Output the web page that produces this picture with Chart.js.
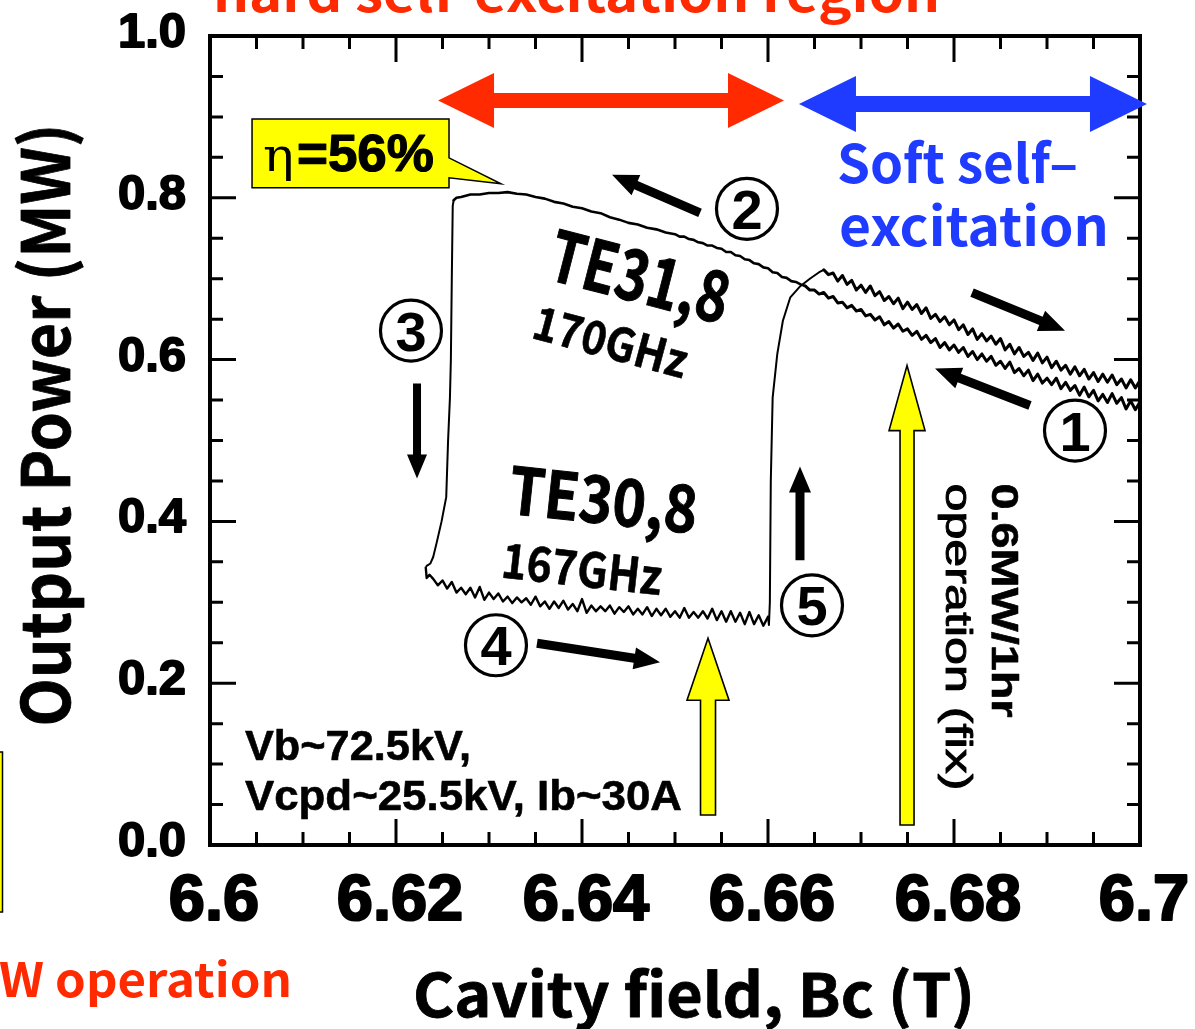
<!DOCTYPE html>
<html>
<head>
<meta charset="utf-8">
<title>Output power vs cavity field</title>
<script src="https://cdn.jsdelivr.net/npm/chart.js@4.4.1/dist/chart.umd.min.js"></script>
<style>
  html, body { margin: 0; padding: 0; background: #fff; overflow: hidden; }
  #wrap { position: relative; width: 1195px; height: 1029px; }
</style>
</head>
<body>
<div id="wrap"><canvas id="c"></canvas></div>
<script>
// ---------------- measured trace: field Bc (T) vs output power (MW) ----------------
// Sweep 1 (field decreasing): high-field branch -> TE31,8 plateau -> drop
const downRightB = [6.7000,6.6995,6.6990,6.6985,6.6980,6.6975,6.6970,6.6965,6.6960,6.6955,
  6.6950,6.6945,6.6940,6.6935,6.6930,6.6925,6.6920,6.6915,6.6910,6.6905,
  6.6900,6.6895,6.6890,6.6885,6.6880,6.6875,6.6870,6.6865,6.6860,6.6855,
  6.6850,6.6845,6.6840,6.6835,6.6830,6.6825,6.6820,6.6815,6.6810,6.6805,
  6.6800,6.6795,6.6790,6.6785,6.6780,6.6775,6.6770,6.6765,6.6760,6.6755,
  6.6750,6.6745,6.6740,6.6735,6.6730,6.6725,6.6720,6.6715,6.6710,6.6705,
  6.6700,6.6695,6.6690,6.6685,6.6680,6.6675,6.6670,6.6665,6.6660,6.6655,
  6.6650,6.6645,6.6640];
const downRightP = [.548,.538,.549,.539,.553,.546,.558,.547,.557,.549,
  .562,.554,.566,.556,.568,.562,.572,.564,.577,.569,
  .577,.571,.582,.574,.587,.580,.589,.584,.597,.589,
  .598,.593,.604,.598,.607,.600,.610,.604,.615,.609,
  .618,.612,.621,.615,.626,.621,.630,.625,.635,.630,
  .638,.635,.644,.639,.647,.643,.653,.649,.656,.654,
  .662,.660,.667,.664,.671,.670,.678,.676,.683,.681,
  .686,.686,.691];

const downTopB = [6.6635,6.6630,6.6625,6.6620,6.6615,6.6610,6.6605,6.6600,6.6595,6.6590,
  6.6585,6.6580,6.6575,6.6570,6.6565,6.6560,6.6555,6.6550,6.6545,6.6540,
  6.6535,6.6530,6.6525,6.6520,6.6515,6.6510,6.6505,6.6500,6.6490,6.6480,
  6.6470,6.6460,6.6450,6.6440,6.6430,6.6420,6.6410,6.6400,6.6390,6.6380,
  6.6370,6.6360,6.6350,6.6340,6.6330,6.6320,6.6310,6.6300,6.6290,6.6280,
  6.6270,6.6265,6.6262];
const downTopP = [.693,.696,.697,.701,.702,.707,.708,.713,.714,.718,
  .719,.723,.724,.728,.729,.733,.733,.737,.738,.741,
  .741,.744,.745,.748,.749,.752,.752,.755,.757,.761,
  .763,.767,.769,.773,.776,.781,.783,.787,.789,.793,
  .795,.799,.801,.804,.805,.807,.806,.806,.804,.804,
  .801,.800,.797];

const dropB = [6.6261,6.6260,6.6259,6.6258,6.6256,6.6254,6.6249,6.6244,6.6240,6.6237,6.6233];
const dropP = [.790,.700,.600,.553,.500,.430,.400,.375,.356,.348,.345];

// Sweep 2 (field increasing): TE30,8 plateau -> jump -> high-field branch
const upHookB = [6.6232,6.6233,6.6236];
const upHookP = [.343,.330,.334];

const upBottomB = [6.6240,6.6245,6.6250,6.6255,6.6260,6.6265,6.6270,6.6275,6.6280,6.6285,
  6.6290,6.6295,6.6300,6.6305,6.6310,6.6315,6.6320,6.6325,6.6330,6.6335,
  6.6340,6.6345,6.6350,6.6355,6.6360,6.6365,6.6370,6.6375,6.6380,6.6385,
  6.6390,6.6395,6.6400,6.6405,6.6410,6.6415,6.6420,6.6425,6.6430,6.6435,
  6.6440,6.6445,6.6450,6.6455,6.6460,6.6465,6.6470,6.6475,6.6480,6.6485,
  6.6490,6.6495,6.6500,6.6505,6.6510,6.6515,6.6520,6.6525,6.6530,6.6535,
  6.6540,6.6545,6.6550,6.6555,6.6560,6.6565,6.6570,6.6575,6.6580,6.6585,
  6.6590,6.6595,6.6600];
const upBottomP = [.329,.321,.327,.317,.325,.312,.318,.310,.318,.306,
  .319,.303,.312,.304,.311,.301,.307,.299,.306,.300,
  .305,.297,.307,.295,.301,.292,.301,.293,.302,.291,
  .298,.289,.304,.287,.296,.289,.295,.289,.296,.286,
  .294,.288,.295,.285,.292,.285,.294,.283,.292,.284,
  .292,.282,.289,.281,.293,.281,.288,.281,.289,.280,
  .292,.278,.289,.276,.289,.276,.287,.273,.288,.273,
  .284,.271,.282];

const upJumpB = [6.6601,6.6602,6.6603,6.6605,6.6610,6.6616,6.6624,6.6634,6.6645,6.6655,6.6660];
const upJumpP = [.272,.300,.450,.553,.607,.648,.677,.690,.700,.708,.711];

const upRightB = [6.6665,6.6670,6.6675,6.6680,6.6685,6.6690,6.6695,6.6700,6.6705,6.6710,
  6.6715,6.6720,6.6725,6.6730,6.6735,6.6740,6.6745,6.6750,6.6755,6.6760,
  6.6765,6.6770,6.6775,6.6780,6.6785,6.6790,6.6795,6.6800,6.6805,6.6810,
  6.6815,6.6820,6.6825,6.6830,6.6835,6.6840,6.6845,6.6850,6.6855,6.6860,
  6.6865,6.6870,6.6875,6.6880,6.6885,6.6890,6.6895,6.6900,6.6905,6.6910,
  6.6915,6.6920,6.6925,6.6930,6.6935,6.6940,6.6945,6.6950,6.6955,6.6960,
  6.6965,6.6970,6.6975,6.6980,6.6985,6.6990,6.6995,6.7000];
const upRightP = [.705,.707,.697,.704,.693,.698,.686,.692,.683,.691,
  .679,.684,.673,.678,.669,.676,.663,.671,.662,.668,
  .657,.664,.651,.656,.647,.653,.643,.649,.637,.643,
  .631,.638,.625,.632,.623,.629,.619,.626,.612,.619,
  .607,.615,.604,.609,.599,.608,.596,.603,.590,.598,
  .587,.593,.582,.591,.580,.588,.576,.584,.573,.582,
  .572,.581,.569,.576,.565,.575,.565,.574];

// axis tick labels
const xTickLabels = ['6.6', '6.62', '6.64', '6.66', '6.68', '6.7'];
const yTickLabels = ['0.0', '0.2', '0.4', '0.6', '0.8', '1.0'];

// ---------------- helpers ----------------
const zip = (bs, ps) => bs.map((b, i) => ({ x: b, y: ps[i] }));
// each trace segment starts at the last point of the one before it, so the trace stays continuous
const segDownRight = zip(downRightB, downRightP);
const segDownTop = [segDownRight[segDownRight.length - 1], ...zip(downTopB, downTopP)];
const segDrop = [segDownTop[segDownTop.length - 1], ...zip(dropB, dropP)];
const segBottom = [...zip(upHookB, upHookP), ...zip(upBottomB, upBottomP)];
const segJump = [segBottom[segBottom.length - 1], ...zip(upJumpB, upJumpP)];
const segUpRight = [segJump[segJump.length - 1], ...zip(upRightB, upRightP)];

const JP = '"Noto Sans CJK JP", "Noto Sans", sans-serif';
const ARIAL = '"Liberation Sans", Arial, sans-serif';
const NARROW = '"Liberation Sans Narrow", "Liberation Sans", Arial, sans-serif';
const RED = '#FF2A00', BLUE = '#1F3BFF', YELLOW = '#FFFF00';

// text drawn at (x, y), optionally rotated (deg) and squeezed to a given width
function text(ctx, s, x, y, o) {
  ctx.save();
  ctx.font = o.font;
  ctx.fillStyle = o.color || '#000';
  ctx.textAlign = o.align || 'left';
  ctx.textBaseline = o.baseline || 'alphabetic';
  ctx.translate(x, y);
  if (o.rot) ctx.rotate(o.rot * Math.PI / 180);
  if (o.width) {
    const w = ctx.measureText(s).width;
    ctx.scale(o.width / w, 1);
  }
  ctx.fillText(s, 0, 0);
  if (o.strokeW) {
    ctx.lineWidth = o.strokeW; ctx.lineJoin = 'round';
    ctx.strokeStyle = o.color || '#000'; ctx.strokeText(s, 0, 0);
  }
  ctx.restore();
}

// single-headed block arrow from (x0,y0) to tip (x1,y1)
function arrow(ctx, x0, y0, x1, y1, sw, hw, hl, fill, stroke) {
  const dx = x1 - x0, dy = y1 - y0, L = Math.hypot(dx, dy);
  const ux = dx / L, uy = dy / L, nx = -uy, ny = ux;
  const bx = x1 - ux * hl, by = y1 - uy * hl;
  ctx.save();
  ctx.beginPath();
  ctx.moveTo(x0 + nx * sw / 2, y0 + ny * sw / 2);
  ctx.lineTo(bx + nx * sw / 2, by + ny * sw / 2);
  ctx.lineTo(bx + nx * hw / 2, by + ny * hw / 2);
  ctx.lineTo(x1, y1);
  ctx.lineTo(bx - nx * hw / 2, by - ny * hw / 2);
  ctx.lineTo(bx - nx * sw / 2, by - ny * sw / 2);
  ctx.lineTo(x0 - nx * sw / 2, y0 - ny * sw / 2);
  ctx.closePath();
  ctx.fillStyle = fill;
  ctx.fill();
  if (stroke) { ctx.lineWidth = 1.6; ctx.strokeStyle = stroke; ctx.lineJoin = 'miter'; ctx.stroke(); }
  ctx.restore();
}

// horizontal double-headed arrow
function dblArrow(ctx, x0, x1, y, sw, hh, hl, fill) {
  ctx.save();
  ctx.beginPath();
  ctx.moveTo(x0, y);
  ctx.lineTo(x0 + hl, y - hh / 2);
  ctx.lineTo(x0 + hl, y - sw / 2);
  ctx.lineTo(x1 - hl, y - sw / 2);
  ctx.lineTo(x1 - hl, y - hh / 2);
  ctx.lineTo(x1, y);
  ctx.lineTo(x1 - hl, y + hh / 2);
  ctx.lineTo(x1 - hl, y + sw / 2);
  ctx.lineTo(x0 + hl, y + sw / 2);
  ctx.lineTo(x0 + hl, y + hh / 2);
  ctx.closePath();
  ctx.fillStyle = fill;
  ctx.fill();
  ctx.restore();
}

function circled(ctx, digit, cx, cy) {
  ctx.save();
  ctx.beginPath();
  ctx.arc(cx, cy, 30.5, 0, Math.PI * 2);
  ctx.lineWidth = 3.2;
  ctx.strokeStyle = '#000';
  ctx.stroke();
  ctx.restore();
  text(ctx, digit, cx, cy + 20, { font: 'bold 56px ' + ARIAL, align: 'center' });
}

// ---------------- frame, ticks, labels and annotations ----------------
const decor = {
  id: 'decor',
  beforeDraw(c) {
    const ctx = c.ctx;
    ctx.save();
    ctx.fillStyle = '#fff';
    ctx.fillRect(0, 0, c.width, c.height);
    ctx.restore();
  },
  afterDatasetsDraw(c) {
    const ctx = c.ctx, xs = c.scales.x, ys = c.scales.y, a = c.chartArea;
    const X = v => xs.getPixelForValue(v), Y = v => ys.getPixelForValue(v);

    // inward ticks on all four sides
    ctx.save();
    ctx.strokeStyle = '#000';
    ctx.lineWidth = 3;
    ctx.lineCap = 'butt';
    for (let i = 1; i < 20; i++) {
      const px = X(xs.min + i * 0.005), len = i % 4 === 0 ? 26 : 13;
      ctx.beginPath();
      ctx.moveTo(px, a.bottom); ctx.lineTo(px, a.bottom - len);
      ctx.moveTo(px, a.top); ctx.lineTo(px, a.top + len);
      ctx.stroke();
      const py = Y(ys.min + i * 0.05);
      ctx.beginPath();
      ctx.moveTo(a.left, py); ctx.lineTo(a.left + len, py);
      ctx.moveTo(a.right, py); ctx.lineTo(a.right - len, py);
      ctx.stroke();
    }
    ctx.lineWidth = 4;
    ctx.strokeRect(a.left, a.top, a.right - a.left, a.bottom - a.top);
    ctx.restore();

    // tick labels
    xTickLabels.forEach(l => {
      text(ctx, l, X(parseFloat(l)) + 4, a.bottom + 75, { font: 'bold 65px ' + ARIAL, align: 'center', strokeW: 2.2 });
    });
    yTickLabels.forEach(l => {
      text(ctx, l, a.left - 24, Y(parseFloat(l)) + 11, { font: 'bold 49px ' + ARIAL, align: 'right', strokeW: 1.8 });
    });

    // axis titles
    text(ctx, 'Output Power (MW)', 70, 425, { font: 'bold 66px ' + JP, align: 'center', rot: -90, width: 603, strokeW: 0.8 });
    text(ctx, 'Cavity field, Bc (T)', 694, 1017, { font: 'bold 60px ' + JP, align: 'center', width: 562, strokeW: 0.8 });

    // red labels running off the edges
    text(ctx, 'hard self-excitation region', 213, 12, { font: 'bold 52px ' + JP, color: RED, width: 727 });
    text(ctx, 'W operation', -1, 997, { font: 'bold 47px ' + JP, color: RED, width: 293 });
    ctx.save();
    ctx.fillStyle = YELLOW; ctx.strokeStyle = '#000'; ctx.lineWidth = 1.5;
    ctx.fillRect(-10, 752, 12.5, 160); ctx.strokeRect(-10, 752, 12.5, 160);
    ctx.restore();

    // excitation regions
    dblArrow(ctx, X(6.62452), X(6.66172), Y(0.9204), 15, 55, 56, RED);
    dblArrow(ctx, X(6.66333), X(6.70075), Y(0.9160), 16, 56, 57, BLUE);
    text(ctx, 'Soft self\u2013', X(6.66742), Y(0.8185), { font: 'bold 53px ' + JP, color: BLUE, width: 241 });
    text(ctx, 'excitation', X(6.66763), Y(0.7407), { font: 'bold 53px ' + JP, color: BLUE, width: 270 });

    // efficiency callout
    ctx.save();
    const bx0 = X(6.60452), bx1 = X(6.62570), by0 = Y(0.8975), by1 = Y(0.8123);
    ctx.beginPath();
    ctx.moveTo(bx0, by0); ctx.lineTo(bx1, by0); ctx.lineTo(bx1, Y(0.8494));
    ctx.lineTo(X(6.63129), Y(0.8173)); ctx.lineTo(bx1, Y(0.8247));
    ctx.lineTo(bx1, by1); ctx.lineTo(bx0, by1); ctx.closePath();
    ctx.fillStyle = YELLOW; ctx.fill();
    ctx.lineWidth = 1.5; ctx.strokeStyle = '#000'; ctx.stroke();
    ctx.restore();
    text(ctx, '\u03b7', X(6.60570), Y(0.8333), { font: '46px "DejaVu Serif", "Liberation Serif", serif', width: 31 });
    text(ctx, '=56%', X(6.60935), Y(0.8333), { font: 'bold 52px ' + ARIAL, width: 137, strokeW: 1.2 });

    // mode labels
    text(ctx, 'TE31,8', X(6.63602), Y(0.7000), { font: 'bold 70px ' + JP, rot: 14.4, width: 183, strokeW: 1 });
    text(ctx, '170GHz', X(6.63441), Y(0.6272), { font: 'bold 46px ' + JP, rot: 15, width: 158, strokeW: 0.6 });
    text(ctx, 'TE30,8', X(6.63194), Y(0.4099), { font: 'bold 65px ' + JP, rot: 6.1, width: 189, strokeW: 1 });
    text(ctx, '167GHz', X(6.63118), Y(0.3309), { font: 'bold 48px ' + JP, rot: 6.4, width: 161, strokeW: 0.6 });

    // sweep order markers
    circled(ctx, '1', X(6.69301), Y(0.5123));
    circled(ctx, '2', X(6.65774), Y(0.7864));
    circled(ctx, '3', X(6.62161), Y(0.6358));
    circled(ctx, '4', X(6.63075), Y(0.2469));
    circled(ctx, '5', X(6.66473), Y(0.2963));
    const sw = 9, hw = 22, hl = 26;
    arrow(ctx, X(6.65269), Y(0.7815), X(6.64323), Y(0.8284), sw, hw, hl, '#000');
    arrow(ctx, X(6.62226), Y(0.5704), X(6.62226), Y(0.4531), 8, 20, 24, '#000');
    arrow(ctx, X(6.63516), Y(0.2494), X(6.64839), Y(0.2259), sw, hw, hl, '#000');
    arrow(ctx, X(6.66344), Y(0.3519), X(6.66344), Y(0.4679), sw, hw, hl, '#000');
    arrow(ctx, X(6.68194), Y(0.6827), X(6.69194), Y(0.6358), sw, hw, hl, '#000');
    arrow(ctx, X(6.68817), Y(0.5432), X(6.67796), Y(0.5889), sw, hw, hl, '#000');

    // operating points
    arrow(ctx, X(6.65355), Y(0.0370), X(6.65355), Y(0.2556), 15, 42, 62, YELLOW, '#000');
    arrow(ctx, X(6.67495), Y(0.0247), X(6.67495), Y(0.5926), 14, 36, 65, YELLOW, '#000');
    text(ctx, '0.6MW/1hr', X(6.68409), Y(0.4469), { font: 'bold 36px ' + ARIAL, rot: 90, width: 234, strokeW: 0.6 });
    text(ctx, 'operation (fix)', X(6.67914), Y(0.4469), { font: '36px ' + ARIAL, rot: 90, width: 307, strokeW: 0.9 });

    // operating conditions
    text(ctx, 'Vb~72.5kV,', X(6.60376), Y(0.1049), { font: 'bold 42px ' + NARROW, width: 226, strokeW: 0.6 });
    text(ctx, 'Vcpd~25.5kV, Ib~30A', X(6.60376), Y(0.0432), { font: 'bold 42px ' + NARROW, width: 437, strokeW: 0.6 });
  }
};

const trace = (label, data, width) => ({
  label, data, borderColor: '#000', borderWidth: width, pointRadius: 0, tension: 0,
  fill: false, borderJoinStyle: 'round', borderCapStyle: 'round'
});

new Chart(document.getElementById('c'), {
  type: 'line',
  data: {
    datasets: [
      trace('decreasing Bc, high-field branch', segDownRight, 3),
      trace('decreasing Bc, TE31,8', segDownTop, 2.6),
      trace('decreasing Bc, drop', segDrop, 2),
      trace('increasing Bc, TE30,8', segBottom, 2.4),
      trace('increasing Bc, jump', segJump, 2),
      trace('increasing Bc, high-field branch', segUpRight, 3)
    ]
  },
  options: {
    responsive: true,
    maintainAspectRatio: false,
    animation: false,
    devicePixelRatio: 1,
    events: [],
    layout: { padding: { left: 0, right: 55, top: 36, bottom: 0 } },
    plugins: { legend: { display: false }, tooltip: { enabled: false } },
    scales: {
      x: {
        type: 'linear', min: 6.6, max: 6.7,
        grid: { display: false }, border: { display: false }, ticks: { display: false },
        afterFit: s => { s.height = 184; }
      },
      y: {
        type: 'linear', min: 0, max: 1,
        grid: { display: false }, border: { display: false }, ticks: { display: false },
        afterFit: s => { s.width = 210; }
      }
    }
  },
  plugins: [decor]
});
</script>
</body>
</html>
